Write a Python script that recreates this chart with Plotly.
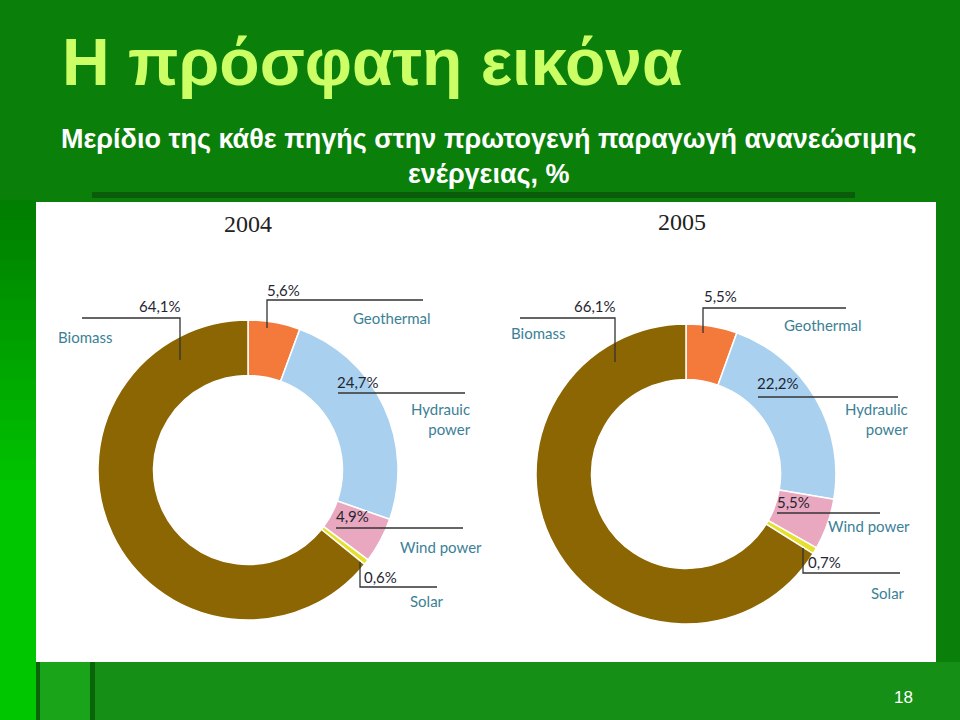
import plotly.graph_objects as go

# ---------------- data ----------------
YEARS = ["2004", "2005"]
SOURCES = ["Geothermal", "Hydraulic power", "Wind power", "Solar", "Biomass"]
SHARE_2004 = [5.6, 24.7, 4.9, 0.6, 64.1]
SHARE_2005 = [5.5, 22.2, 5.5, 0.7, 66.1]
LABELS_2004 = ["Geothermal", "Hydrauic<br>power", "Wind power", "Solar", "Biomass"]
LABELS_2005 = ["Geothermal", "Hydraulic<br>power", "Wind power", "Solar", "Biomass"]

TITLE = "Η πρόσφατη εικόνα"
SUBTITLE = "Μερίδιο της κάθε πηγής στην πρωτογενή παραγωγή ανανεώσιμης<br>ενέργειας, %"
PAGE = "18"

# ---------------- style ----------------
COLORS = ["#f47a3c", "#a9d1ef", "#e9a8bf", "#e6e02c", "#8c6602"]
W, H = 960, 720
LABEL_COLOR = "#3b8196"
PCT_COLOR = "#1f2733"
LINE_COLOR = "#333333"


def px(x):
    return x / W


def py(y):
    return 1 - y / H


def fmt(v):
    return f"{v:.1f}".replace(".", ",") + "%"


# chart geometry (pixels)
CHARTS = [
    dict(year=YEARS[0], values=SHARE_2004, labels=LABELS_2004, cx=248, cy=470, r=150,
         year_pos=(248, 224),
         leaders={
             "Biomass": dict(line=[(82, 318), (180, 318), (180, 360)], pct=(160, 306), lab=(85, 337), la="center"),
             "Geothermal": dict(line=[(267, 328), (267, 300), (423, 300)], pct=(283, 290), lab=(392, 318), la="center"),
             "Hydraulic power": dict(line=[(338, 393), (465, 393)], pct=(358, 382), lab=(473, 419), la="right"),
             "Wind power": dict(line=[(336, 528), (463, 528)], pct=(352, 516), lab=(441, 547), la="center"),
             "Solar": dict(line=[(360, 562), (360, 587), (437, 587)], pct=(380, 577), lab=(427, 601), la="center"),
         }),
    dict(year=YEARS[1], values=SHARE_2005, labels=LABELS_2005, cx=686, cy=474, r=150,
         year_pos=(682, 222),
         leaders={
             "Biomass": dict(line=[(520, 318), (615, 318), (615, 362)], pct=(595, 306), lab=(538, 333), la="center"),
             "Geothermal": dict(line=[(703, 333), (703, 308), (846, 308)], pct=(720, 296), lab=(823, 325), la="center"),
             "Hydraulic power": dict(line=[(758, 397), (898, 397)], pct=(778, 383), lab=(910, 419), la="right"),
             "Wind power": dict(line=[(777, 513), (880, 513)], pct=(793, 502), lab=(869, 526), la="center"),
             "Solar": dict(line=[(803, 548), (803, 573), (900, 573)], pct=(824, 562), lab=(888, 593), la="center"),
         }),
]

fig = go.Figure()

shapes = []
annotations = []


def rect(x0, y0, x1, y1, color, layer="below"):
    shapes.append(dict(type="rect", xref="paper", yref="paper",
                       x0=px(x0), x1=px(x1), y0=py(y1), y1=py(y0),
                       fillcolor=color, line=dict(width=0), layer=layer))


# left gradient strip
n = 15
for i in range(n):
    t = i / (n - 1)
    g = int(0x7f + (0xc6 - 0x7f) * t)
    rect(0, 200 + i * 20, 36, 200 + (i + 1) * 20 + 1, f"#00{g:02x}00")
rect(0, 500, 36, 720, "#00c600")
# bottom band
rect(36, 662, 960, 720, "#168f16")
rect(40, 662, 90, 720, "#19a419")
rect(36, 662, 40, 720, "#0a650a")
rect(90, 662, 95, 720, "#0a650a")
# panel shadow and white panel
rect(92, 192, 855, 198, "#0a5c0a")
rect(36, 202, 936, 662, "#ffffff")

# pies
for ch in CHARTS:
    r = ch["r"]
    fig.add_trace(go.Pie(
        values=ch["values"], labels=SOURCES, sort=False, direction="clockwise",
        rotation=0, hole=0.63, textinfo="none", hoverinfo="label+value",
        marker=dict(colors=COLORS, line=dict(color="#ffffff", width=1.5)),
        domain=dict(x=[px(ch["cx"] - r), px(ch["cx"] + r)],
                    y=[py(ch["cy"] + r), py(ch["cy"] - r)]),
        showlegend=False,
    ))
    annotations.append(dict(x=px(ch["year_pos"][0]), y=py(ch["year_pos"][1]),
                            xref="paper", yref="paper", text=ch["year"], showarrow=False,
                            xanchor="center", yanchor="middle",
                            font=dict(family="Liberation Serif", size=24, color="#222222")))
    for src, val, lab in zip(SOURCES, ch["values"], ch["labels"]):
        ld = ch["leaders"][src]
        pts = ld["line"]
        path = "M " + " L ".join(f"{px(x)},{py(y)}" for x, y in pts)
        shapes.append(dict(type="path", xref="paper", yref="paper", path=path,
                           line=dict(color=LINE_COLOR, width=1.3), layer="above"))
        annotations.append(dict(x=px(ld["pct"][0]), y=py(ld["pct"][1]), xref="paper", yref="paper",
                                text=fmt(val), showarrow=False, xanchor="center", yanchor="middle",
                                font=dict(family="Lato", size=15, color=PCT_COLOR)))
        annotations.append(dict(x=px(ld["lab"][0]), y=py(ld["lab"][1]), xref="paper", yref="paper",
                                text=lab, showarrow=False, xanchor=ld["la"], yanchor="middle",
                                align=ld["la"],
                                font=dict(family="Lato", size=15, color=LABEL_COLOR)))

# titles
annotations.append(dict(x=px(60), y=py(62), xref="paper", yref="paper", text=f"<b>{TITLE}</b>",
                        showarrow=False, xanchor="left", yanchor="middle",
                        font=dict(family="Liberation Sans", size=66, color="#ccff66")))
annotations.append(dict(x=px(488), y=py(156), xref="paper", yref="paper", text=f"<b>{SUBTITLE}</b>",
                        showarrow=False, xanchor="center", yanchor="middle", align="center",
                        font=dict(family="Liberation Sans", size=27, color="#ffffff")))
annotations.append(dict(x=px(903), y=py(697), xref="paper", yref="paper", text=PAGE,
                        showarrow=False, xanchor="center", yanchor="middle",
                        font=dict(family="Liberation Sans", size=17, color="#ffffff")))

fig.update_layout(
    width=W, height=H, margin=dict(l=0, r=0, t=0, b=0),
    paper_bgcolor="#0a7f0a", plot_bgcolor="#0a7f0a",
    shapes=shapes, annotations=annotations, showlegend=False,
)

fig.write_html("out.html")
